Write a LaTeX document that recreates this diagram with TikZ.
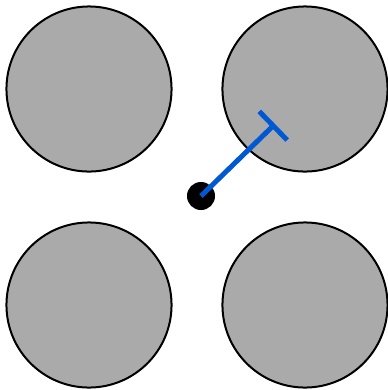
\documentclass[tikz,border=0pt]{standalone}
\usepackage{tikz}
\usetikzlibrary{arrows.meta}
\definecolor{disk}{RGB}{170,170,170}
\definecolor{probe}{RGB}{0,88,210}

\begin{document}
\begin{tikzpicture}[x=0.01cm,y=-0.01cm,
  obstacle/.style={circle,draw=black,line width=0.02cm,fill=disk,minimum size=1.65cm,inner sep=0pt},
  agent/.style={circle,fill=black,minimum size=0.28cm,inner sep=0pt}]
\useasboundingbox (0,0) rectangle (388,390);
\node[obstacle] (nw) at (89,89) {};
\node[obstacle] (ne) at (305,89) {};
\node[obstacle] (sw) at (89,305) {};
\node[obstacle] (se) at (305,305) {};
\node[agent] (bot) at (201,196) {};
\coordinate (hit) at (275,124);
\draw[probe,line width=0.05cm,-{Bar[width=0.4cm]}] (bot.center) -- (hit);
\end{tikzpicture}
\end{document}
